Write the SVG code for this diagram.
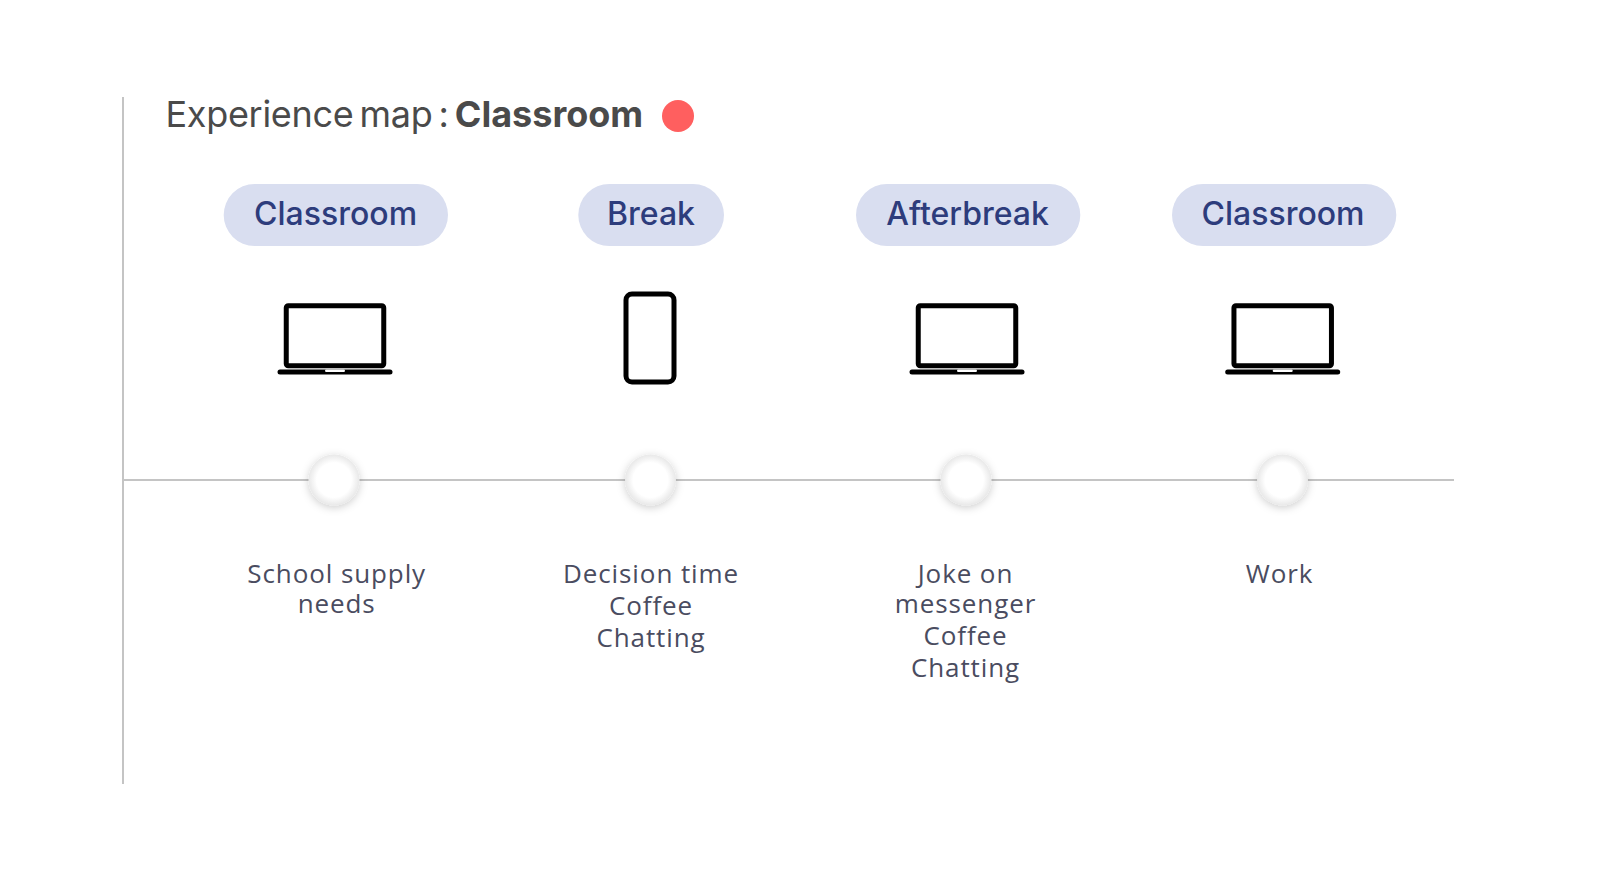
<svg xmlns="http://www.w3.org/2000/svg" width="1602" height="894" viewBox="0 0 1602 894">
<style>
.title{font-family:Inter,"Liberation Sans",sans-serif;font-size:36px;fill:#4a4a4a;letter-spacing:-0.3px;word-spacing:-3.700px}
.pill{fill:#d9def0}
.pilltxt{font-family:Inter,"Liberation Sans",sans-serif;font-size:32px;font-weight:500;fill:#2d3c7c;text-anchor:middle}
.note{font-family:"Open Sans","Liberation Sans",sans-serif;font-size:26px;font-weight:500;fill:#4a4c60;text-anchor:middle;letter-spacing:0.900px}
.axis{stroke:#c4c4c4;stroke-width:2;fill:none}
.ic{fill:none;stroke:#000;stroke-width:5}
.base{fill:#000}
.notch{fill:#fff}
.dot{fill:url(#dg);filter:url(#ds)}
</style>
<defs>
<radialGradient id="dg"><stop offset="0.68" stop-color="#fff"/><stop offset="1" stop-color="#e8e8e8"/></radialGradient>
<filter id="ds" x="-50%" y="-50%" width="200%" height="200%"><feDropShadow dx="0" dy="2" stdDeviation="4.500" flood-color="#000" flood-opacity="0.2"/></filter>
<g id="laptop">
<rect class="ic" x="-48.750" y="-174.750" width="97.500" height="60" rx="2"/>
<rect class="base" x="-57.500" y="-111" width="115" height="5" rx="2.500"/>
<rect class="notch" x="-10" y="-111" width="20" height="2.500" rx="1.200"/>
</g>
</defs>
<g id="connectors">
<path class="axis" d="M123 97V784"/>
<path class="axis" d="M123 480H1454"/>
</g>
<g id="title">
<text class="title" x="165.500" y="126.500">Experience map : <tspan font-weight="700" style="letter-spacing:0;word-spacing:0">Classroom</tspan></text>
<circle cx="678" cy="116" r="16" fill="#ff5f5f"/>
</g>
<g id="node-1">
<rect class="pill" x="223.700" y="184" width="224.300" height="62" rx="31"/>
<text class="pilltxt" x="335.600" y="225">Classroom</text>
<use href="#laptop" x="335" y="480.500"/>
<circle class="dot" cx="334" cy="480" r="25.500"/>
<text class="note"><tspan x="336.700" y="582.500">School supply</tspan><tspan x="336.700" y="612.500">needs</tspan></text>
</g>
<g id="node-2">
<rect class="pill" x="578.300" y="184" width="145.700" height="62" rx="31"/>
<text class="pilltxt" x="651" y="225">Break</text>
<rect class="ic" x="626" y="294" width="48" height="88" rx="6"/>
<circle class="dot" cx="650.500" cy="480" r="25.500"/>
<text class="note"><tspan x="651" y="582.500">Decision time</tspan><tspan x="651" y="614.500">Coffee</tspan><tspan x="651" y="646.500">Chatting</tspan></text>
</g>
<g id="node-3">
<rect class="pill" x="856" y="184" width="224.300" height="62" rx="31"/>
<text class="pilltxt" x="967.600" y="225">Afterbreak</text>
<use href="#laptop" x="967" y="480.500"/>
<circle class="dot" cx="966" cy="480" r="25.500"/>
<text class="note"><tspan x="965.500" y="582.500">Joke on</tspan><tspan x="965.500" y="612.500">messenger</tspan><tspan x="965.500" y="644.500">Coffee</tspan><tspan x="965.500" y="676.500">Chatting</tspan></text>
</g>
<g id="node-4">
<rect class="pill" x="1172" y="184" width="224.300" height="62" rx="31"/>
<text class="pilltxt" x="1283" y="225">Classroom</text>
<use href="#laptop" x="1282.700" y="480.500"/>
<circle class="dot" cx="1282.500" cy="480" r="25.500"/>
<text class="note"><tspan x="1279.500" y="582.500">Work</tspan></text>
</g>
</svg>
